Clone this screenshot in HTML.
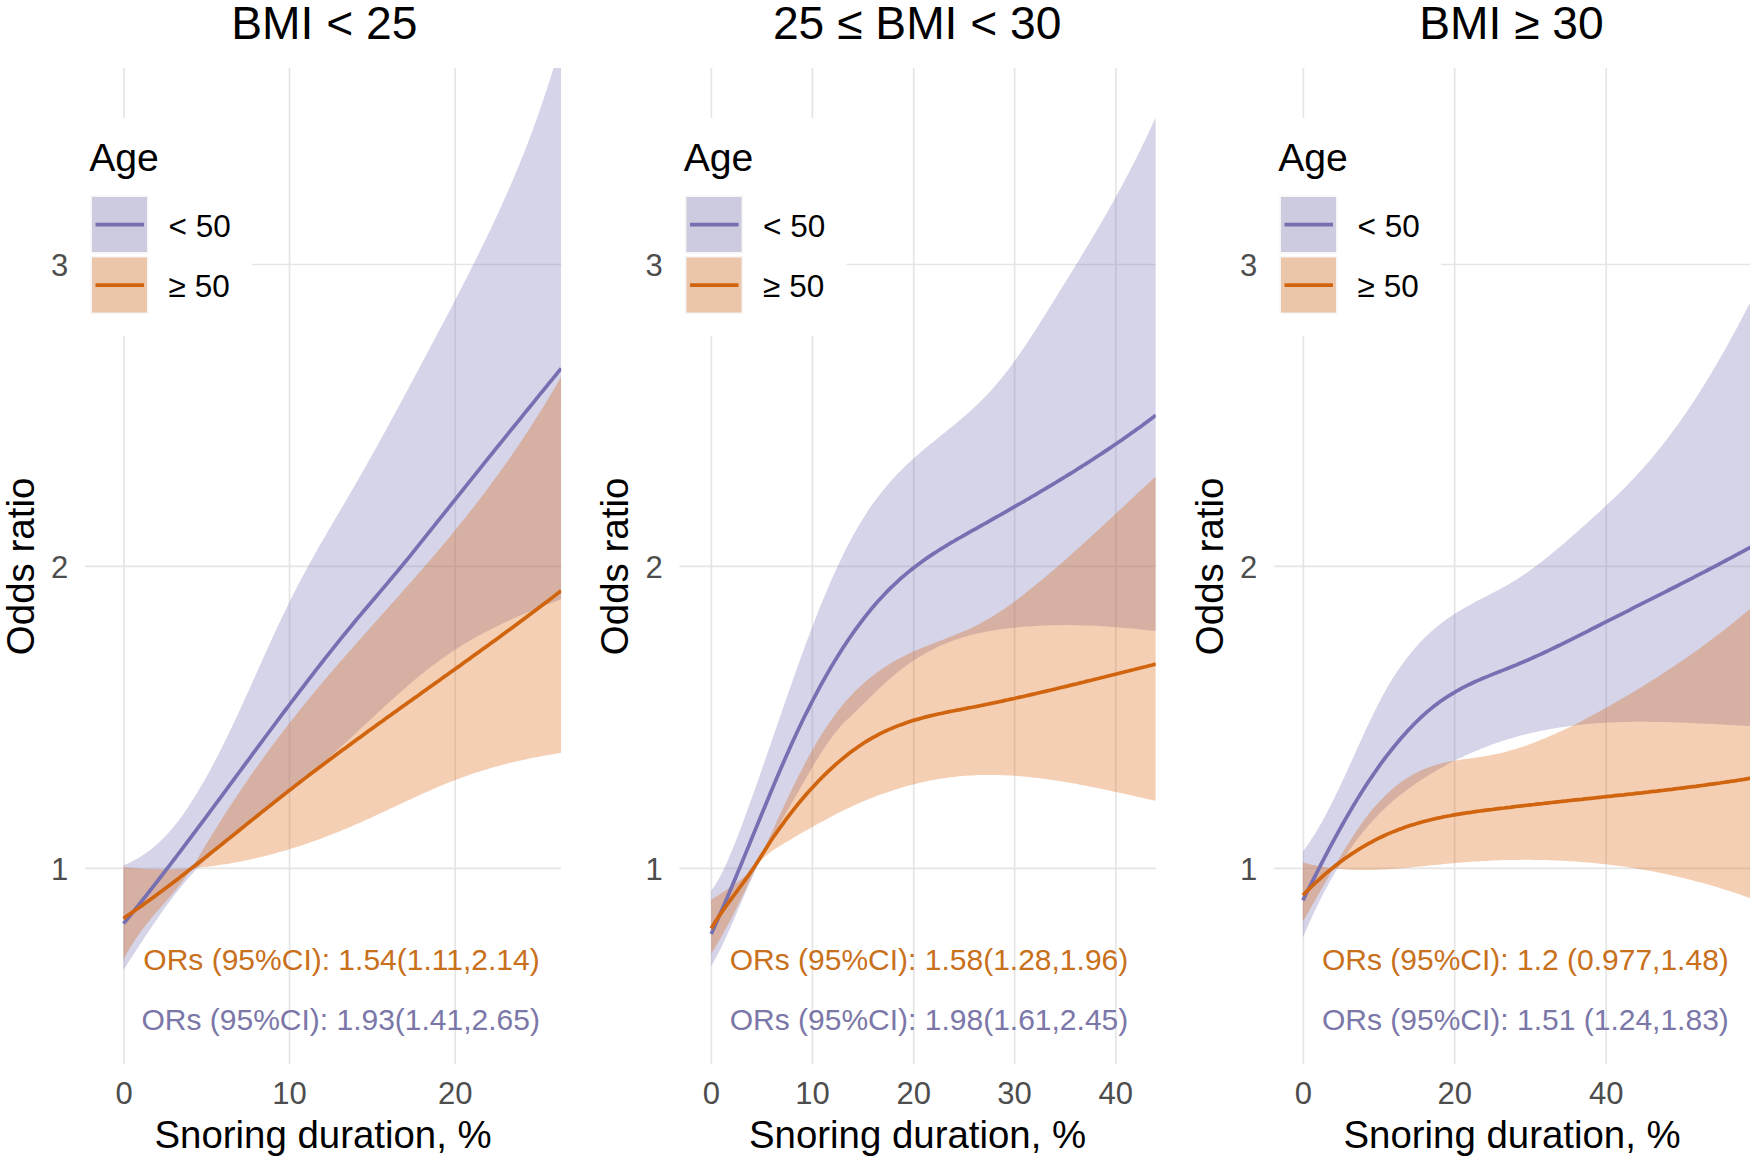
<!DOCTYPE html>
<html lang="en"><head><meta charset="utf-8"><title>Odds ratio by snoring duration</title>
<style>html,body{margin:0;padding:0;background:#fff}body{width:1750px;height:1160px;overflow:hidden}svg{display:block}</style>
</head><body>
<svg width="1750" height="1160" viewBox="0 0 1750 1160" font-family='"Liberation Sans", Arial, Helvetica, sans-serif'>
<rect width="1750" height="1160" fill="#fff"/>
<defs>
<clipPath id="c0"><rect x="85.0" y="68.0" width="476.25" height="996.0"/></clipPath>
<clipPath id="c1"><rect x="679.5" y="68.0" width="476.25" height="996.0"/></clipPath>
<clipPath id="c2"><rect x="1274.0" y="68.0" width="476.00" height="996.0"/></clipPath>
</defs>
<g id="panel1">
<path d="M85.0 264.5H561.25M85.0 566.3H561.25M85.0 868.3H561.25M124.0 68.0V1064.0M289.5 68.0V1064.0M455.25 68.0V1064.0" stroke="#e5e5e5" stroke-width="1.7" fill="none"/>
<g clip-path="url(#c0)">
<path d="M123.5 865.3L126.5 864.0L129.5 862.7L132.5 861.2L135.5 859.6L138.5 857.9L141.5 856.1L144.5 854.1L147.5 852.0L150.5 849.7L153.5 847.3L156.5 844.7L159.5 842.0L162.5 839.1L165.5 836.0L168.5 832.8L171.5 829.3L174.5 825.7L177.5 821.9L180.5 817.9L183.5 813.7L186.5 809.4L189.5 804.9L192.5 800.3L195.5 795.5L198.5 790.5L201.5 785.4L204.5 780.2L207.5 774.9L210.5 769.4L213.5 763.7L216.5 758.0L219.5 752.2L222.5 746.2L225.5 740.1L228.5 734.0L231.5 727.7L234.5 721.4L237.5 714.9L240.5 708.4L243.5 701.9L246.5 695.3L249.5 688.7L252.5 682.0L255.5 675.3L258.5 668.7L261.5 662.0L264.5 655.3L267.5 648.7L270.5 642.1L273.5 635.6L276.5 629.1L279.5 622.6L282.5 616.3L285.5 610.0L288.5 603.9L291.5 597.8L294.5 591.9L297.5 586.1L300.5 580.4L303.5 574.7L306.5 569.2L309.5 563.7L312.5 558.3L315.5 552.9L318.5 547.6L321.5 542.4L324.5 537.2L327.5 532.0L330.5 526.9L333.5 521.8L336.5 516.7L339.5 511.6L342.5 506.5L345.5 501.4L348.5 496.2L351.5 491.1L354.5 485.9L357.5 480.7L360.5 475.5L363.5 470.2L366.5 464.9L369.5 459.6L372.5 454.3L375.5 448.9L378.5 443.5L381.5 438.0L384.5 432.6L387.5 427.1L390.5 421.6L393.5 416.0L396.5 410.5L399.5 404.9L402.5 399.4L405.5 393.8L408.5 388.2L411.5 382.6L414.5 377.0L417.5 371.3L420.5 365.7L423.5 360.0L426.5 354.4L429.5 348.8L432.5 343.1L435.5 337.4L438.5 331.8L441.5 326.1L444.5 320.4L447.5 314.7L450.5 309.0L453.5 303.2L456.5 297.5L459.5 291.7L462.5 285.8L465.5 280.0L468.5 274.1L471.5 268.1L474.5 262.1L477.5 256.1L480.5 250.0L483.5 243.9L486.5 237.7L489.5 231.4L492.5 225.1L495.5 218.7L498.5 212.3L501.5 205.7L504.5 199.1L507.5 192.3L510.5 185.4L513.5 178.4L516.5 171.3L519.5 164.0L522.5 156.6L525.5 149.0L528.5 141.2L531.5 133.2L534.5 125.0L537.5 116.7L540.5 108.1L543.5 99.3L546.5 90.2L549.5 80.9L552.5 71.4L555.5 61.5L558.5 51.4L561.2 41.9L561.2 599.2L558.5 600.3L555.5 601.4L552.5 602.5L549.5 603.7L546.5 604.8L543.5 606.0L540.5 607.2L537.5 608.4L534.5 609.6L531.5 610.8L528.5 612.0L525.5 613.3L522.5 614.5L519.5 615.8L516.5 617.1L513.5 618.5L510.5 619.8L507.5 621.2L504.5 622.6L501.5 624.0L498.5 625.4L495.5 626.9L492.5 628.4L489.5 629.9L486.5 631.5L483.5 633.1L480.5 634.7L477.5 636.3L474.5 638.0L471.5 639.7L468.5 641.5L465.5 643.3L462.5 645.1L459.5 647.0L456.5 648.9L453.5 650.8L450.5 652.8L447.5 654.8L444.5 656.9L441.5 659.0L438.5 661.2L435.5 663.4L432.5 665.7L429.5 668.0L426.5 670.3L423.5 672.7L420.5 675.1L417.5 677.6L414.5 680.1L411.5 682.6L408.5 685.2L405.5 687.8L402.5 690.4L399.5 693.1L396.5 695.7L393.5 698.4L390.5 701.1L387.5 703.9L384.5 706.6L381.5 709.4L378.5 712.1L375.5 714.9L372.5 717.7L369.5 720.5L366.5 723.3L363.5 726.0L360.5 728.8L357.5 731.6L354.5 734.4L351.5 737.2L348.5 739.9L345.5 742.7L342.5 745.4L339.5 748.1L336.5 750.8L333.5 753.5L330.5 756.1L327.5 758.8L324.5 761.4L321.5 764.0L318.5 766.5L315.5 769.1L312.5 771.6L309.5 774.1L306.5 776.6L303.5 779.1L300.5 781.6L297.5 784.1L294.5 786.5L291.5 788.9L288.5 791.4L285.5 793.8L282.5 796.2L279.5 798.6L276.5 801.1L273.5 803.5L270.5 805.9L267.5 808.3L264.5 810.7L261.5 813.1L258.5 815.5L255.5 817.9L252.5 820.3L249.5 822.7L246.5 825.2L243.5 827.6L240.5 830.1L237.5 832.5L234.5 835.0L231.5 837.5L228.5 840.0L225.5 842.5L222.5 845.0L219.5 847.6L216.5 850.1L213.5 852.8L210.5 855.5L207.5 858.2L204.5 861.1L201.5 864.0L198.5 867.0L195.5 870.1L192.5 873.4L189.5 876.8L186.5 880.2L183.5 883.8L180.5 887.5L177.5 891.2L174.5 895.1L171.5 899.0L168.5 903.0L165.5 907.1L162.5 911.3L159.5 915.6L156.5 919.9L153.5 924.2L150.5 928.7L147.5 933.1L144.5 937.6L141.5 942.2L138.5 946.8L135.5 951.4L132.5 956.0L129.5 960.6L126.5 965.3L123.5 970.0Z" fill="#7570B3" fill-opacity="0.3"/>
<path d="M123.5 867.2L126.5 867.5L129.5 867.8L132.5 868.1L135.5 868.3L138.5 868.5L141.5 868.7L144.5 868.9L147.5 869.0L150.5 869.1L153.5 869.2L156.5 869.3L159.5 869.3L162.5 869.3L165.5 869.3L168.5 869.3L171.5 869.2L174.5 869.1L177.5 869.0L180.5 868.9L183.5 868.7L186.5 868.6L189.5 868.4L192.5 868.1L195.5 867.9L198.5 867.6L201.5 867.3L204.5 867.0L207.5 866.7L210.5 866.3L213.5 865.9L216.5 865.5L219.5 865.1L222.5 864.6L225.5 864.2L228.5 863.7L231.5 863.2L234.5 862.6L237.5 862.1L240.5 861.5L243.5 860.9L246.5 860.3L249.5 859.6L252.5 859.0L255.5 858.3L258.5 857.6L261.5 856.9L264.5 856.1L267.5 855.4L270.5 854.6L273.5 853.8L276.5 853.0L279.5 852.1L282.5 851.3L285.5 850.4L288.5 849.5L291.5 848.6L294.5 847.6L297.5 846.7L300.5 845.7L303.5 844.7L306.5 843.7L309.5 842.7L312.5 841.6L315.5 840.5L318.5 839.5L321.5 838.4L324.5 837.2L327.5 836.1L330.5 834.9L333.5 833.8L336.5 832.6L339.5 831.4L342.5 830.1L345.5 828.9L348.5 827.6L351.5 826.4L354.5 825.1L357.5 823.8L360.5 822.4L363.5 821.1L366.5 819.7L369.5 818.4L372.5 817.0L375.5 815.6L378.5 814.2L381.5 812.8L384.5 811.4L387.5 810.0L390.5 808.6L393.5 807.2L396.5 805.8L399.5 804.4L402.5 803.0L405.5 801.6L408.5 800.2L411.5 798.8L414.5 797.4L417.5 796.0L420.5 794.7L423.5 793.3L426.5 792.0L429.5 790.7L432.5 789.3L435.5 788.0L438.5 786.8L441.5 785.5L444.5 784.3L447.5 783.0L450.5 781.8L453.5 780.7L456.5 779.5L459.5 778.4L462.5 777.3L465.5 776.2L468.5 775.2L471.5 774.1L474.5 773.1L477.5 772.2L480.5 771.2L483.5 770.3L486.5 769.4L489.5 768.5L492.5 767.6L495.5 766.8L498.5 765.9L501.5 765.1L504.5 764.3L507.5 763.6L510.5 762.8L513.5 762.1L516.5 761.4L519.5 760.7L522.5 760.0L525.5 759.4L528.5 758.7L531.5 758.1L534.5 757.5L537.5 756.9L540.5 756.4L543.5 755.8L546.5 755.3L549.5 754.7L552.5 754.2L555.5 753.7L558.5 753.2L561.2 752.8L561.2 376.5L558.5 381.3L555.5 386.4L552.5 391.5L549.5 396.6L546.5 401.5L543.5 406.4L540.5 411.3L537.5 416.1L534.5 420.8L531.5 425.5L528.5 430.2L525.5 434.8L522.5 439.3L519.5 443.8L516.5 448.2L513.5 452.6L510.5 457.0L507.5 461.3L504.5 465.5L501.5 469.7L498.5 473.9L495.5 478.0L492.5 482.1L489.5 486.2L486.5 490.2L483.5 494.2L480.5 498.1L477.5 502.0L474.5 505.9L471.5 509.8L468.5 513.6L465.5 517.4L462.5 521.1L459.5 524.8L456.5 528.5L453.5 532.2L450.5 535.9L447.5 539.5L444.5 543.1L441.5 546.7L438.5 550.2L435.5 553.7L432.5 557.3L429.5 560.8L426.5 564.2L423.5 567.7L420.5 571.2L417.5 574.6L414.5 578.0L411.5 581.4L408.5 584.8L405.5 588.2L402.5 591.6L399.5 595.0L396.5 598.4L393.5 601.7L390.5 605.1L387.5 608.5L384.5 611.8L381.5 615.2L378.5 618.5L375.5 621.9L372.5 625.2L369.5 628.6L366.5 632.0L363.5 635.3L360.5 638.7L357.5 642.1L354.5 645.5L351.5 648.9L348.5 652.3L345.5 655.7L342.5 659.2L339.5 662.6L336.5 666.1L333.5 669.6L330.5 673.1L327.5 676.6L324.5 680.1L321.5 683.7L318.5 687.2L315.5 690.8L312.5 694.4L309.5 698.1L306.5 701.7L303.5 705.4L300.5 709.1L297.5 712.9L294.5 716.7L291.5 720.5L288.5 724.3L285.5 728.2L282.5 732.1L279.5 736.0L276.5 740.0L273.5 744.0L270.5 748.0L267.5 752.1L264.5 756.2L261.5 760.4L258.5 764.5L255.5 768.8L252.5 773.0L249.5 777.3L246.5 781.7L243.5 786.1L240.5 790.5L237.5 795.0L234.5 799.5L231.5 804.0L228.5 808.6L225.5 813.3L222.5 817.9L219.5 822.7L216.5 827.5L213.5 832.3L210.5 837.2L207.5 842.1L204.5 847.0L201.5 852.0L198.5 857.0L195.5 861.9L192.5 866.7L189.5 871.3L186.5 875.7L183.5 879.9L180.5 883.9L177.5 887.7L174.5 891.3L171.5 894.9L168.5 898.4L165.5 901.8L162.5 905.2L159.5 908.7L156.5 912.1L153.5 915.6L150.5 919.2L147.5 922.9L144.5 926.7L141.5 930.7L138.5 934.9L135.5 939.3L132.5 944.0L129.5 948.9L126.5 954.1L123.5 959.6Z" fill="#D95F02" fill-opacity="0.3" fill-rule="nonzero"/>
<path d="M123.5 923.7L126.5 920.0L129.5 916.3L132.5 912.6L135.5 908.9L138.5 905.2L141.5 901.4L144.5 897.6L147.5 893.8L150.5 890.0L153.5 886.2L156.5 882.4L159.5 878.5L162.5 874.6L165.5 870.7L168.5 866.8L171.5 862.9L174.5 859.0L177.5 855.0L180.5 851.1L183.5 847.1L186.5 843.1L189.5 839.1L192.5 835.2L195.5 831.1L198.5 827.1L201.5 823.1L204.5 819.1L207.5 815.1L210.5 811.0L213.5 807.0L216.5 802.9L219.5 798.9L222.5 794.8L225.5 790.8L228.5 786.7L231.5 782.7L234.5 778.6L237.5 774.5L240.5 770.5L243.5 766.4L246.5 762.3L249.5 758.3L252.5 754.2L255.5 750.2L258.5 746.1L261.5 742.1L264.5 738.0L267.5 734.0L270.5 730.0L273.5 726.0L276.5 722.0L279.5 717.9L282.5 713.9L285.5 710.0L288.5 706.0L291.5 702.0L294.5 698.1L297.5 694.1L300.5 690.2L303.5 686.3L306.5 682.3L309.5 678.4L312.5 674.6L315.5 670.7L318.5 666.8L321.5 663.0L324.5 659.2L327.5 655.4L330.5 651.6L333.5 647.8L336.5 644.1L339.5 640.4L342.5 636.7L345.5 633.0L348.5 629.3L351.5 625.7L354.5 622.0L357.5 618.4L360.5 614.9L363.5 611.3L366.5 607.8L369.5 604.2L372.5 600.7L375.5 597.2L378.5 593.6L381.5 590.1L384.5 586.6L387.5 583.1L390.5 579.5L393.5 575.9L396.5 572.4L399.5 568.8L402.5 565.1L405.5 561.5L408.5 557.8L411.5 554.1L414.5 550.4L417.5 546.7L420.5 542.9L423.5 539.2L426.5 535.4L429.5 531.6L432.5 527.9L435.5 524.1L438.5 520.4L441.5 516.6L444.5 512.8L447.5 509.1L450.5 505.3L453.5 501.6L456.5 497.8L459.5 494.1L462.5 490.3L465.5 486.6L468.5 482.8L471.5 479.1L474.5 475.4L477.5 471.6L480.5 467.9L483.5 464.2L486.5 460.4L489.5 456.7L492.5 453.0L495.5 449.2L498.5 445.5L501.5 441.8L504.5 438.1L507.5 434.4L510.5 430.7L513.5 427.0L516.5 423.3L519.5 419.6L522.5 415.9L525.5 412.2L528.5 408.5L531.5 404.8L534.5 401.1L537.5 397.4L540.5 393.7L543.5 390.1L546.5 386.4L549.5 382.7L552.5 379.1L555.5 375.4L558.5 371.7L561.2 368.4" stroke="#766fb2" stroke-width="3.7" fill="none"/>
<path d="M123.5 918.4L126.5 916.3L129.5 914.3L132.5 912.2L135.5 910.1L138.5 908.0L141.5 905.9L144.5 903.7L147.5 901.6L150.5 899.4L153.5 897.2L156.5 895.0L159.5 892.8L162.5 890.5L165.5 888.3L168.5 886.0L171.5 883.7L174.5 881.5L177.5 879.2L180.5 876.9L183.5 874.5L186.5 872.2L189.5 869.9L192.5 867.5L195.5 865.2L198.5 862.8L201.5 860.5L204.5 858.1L207.5 855.7L210.5 853.3L213.5 850.9L216.5 848.5L219.5 846.1L222.5 843.7L225.5 841.3L228.5 838.9L231.5 836.5L234.5 834.1L237.5 831.7L240.5 829.3L243.5 826.9L246.5 824.4L249.5 822.0L252.5 819.6L255.5 817.2L258.5 814.8L261.5 812.4L264.5 810.0L267.5 807.6L270.5 805.2L273.5 802.9L276.5 800.5L279.5 798.1L282.5 795.7L285.5 793.4L288.5 791.0L291.5 788.7L294.5 786.4L297.5 784.0L300.5 781.7L303.5 779.4L306.5 777.1L309.5 774.8L312.5 772.6L315.5 770.3L318.5 768.0L321.5 765.7L324.5 763.5L327.5 761.2L330.5 759.0L333.5 756.8L336.5 754.5L339.5 752.3L342.5 750.1L345.5 747.9L348.5 745.7L351.5 743.5L354.5 741.3L357.5 739.1L360.5 736.9L363.5 734.7L366.5 732.5L369.5 730.3L372.5 728.2L375.5 726.0L378.5 723.8L381.5 721.7L384.5 719.5L387.5 717.3L390.5 715.2L393.5 713.0L396.5 710.9L399.5 708.7L402.5 706.6L405.5 704.4L408.5 702.3L411.5 700.2L414.5 698.0L417.5 695.9L420.5 693.7L423.5 691.6L426.5 689.5L429.5 687.3L432.5 685.2L435.5 683.0L438.5 680.9L441.5 678.8L444.5 676.6L447.5 674.5L450.5 672.3L453.5 670.2L456.5 668.0L459.5 665.9L462.5 663.7L465.5 661.6L468.5 659.4L471.5 657.3L474.5 655.1L477.5 652.9L480.5 650.8L483.5 648.6L486.5 646.4L489.5 644.3L492.5 642.1L495.5 639.9L498.5 637.7L501.5 635.5L504.5 633.3L507.5 631.1L510.5 628.9L513.5 626.7L516.5 624.5L519.5 622.3L522.5 620.0L525.5 617.8L528.5 615.6L531.5 613.3L534.5 611.1L537.5 608.8L540.5 606.5L543.5 604.3L546.5 602.0L549.5 599.7L552.5 597.4L555.5 595.1L558.5 592.8L561.2 590.7" stroke="#d0640f" stroke-width="3.7" fill="none"/>
</g>
<text x="341.5" y="969.5" text-anchor="middle" font-size="30" fill="#c8701c">ORs (95%CI): 1.54(1.11,2.14)</text>
<text x="340.7" y="1030" text-anchor="middle" font-size="30" fill="#7b77a8">ORs (95%CI): 1.93(1.41,2.65)</text>
<rect x="73.0" y="118" width="179" height="218" fill="#fff"/>
<text x="89.2" y="171" font-size="39.2" fill="#000">Age</text>
<rect x="90.5" y="195.5" width="58" height="58" fill="#f7f6f5"/>
<rect x="92.0" y="197" width="55" height="55" fill="#f2f2f2"/>
<rect x="92.0" y="197" width="55" height="55" fill="#7570B3" fill-opacity="0.3"/>
<path d="M95.5 224.6H144.0" stroke="#766fb2" stroke-width="3.7"/>
<text x="168.6" y="236.8" font-size="31.5" fill="#000">&lt; 50</text>
<rect x="90.5" y="256.0" width="58" height="58" fill="#f7f6f5"/>
<rect x="92.0" y="257.5" width="55" height="55" fill="#f2f2f2"/>
<rect x="92.0" y="257.5" width="55" height="55" fill="#D95F02" fill-opacity="0.3"/>
<path d="M95.5 285.1H144.0" stroke="#d0640f" stroke-width="3.7"/>
<text x="168.6" y="297.3" font-size="31.5" fill="#000">≥ 50</text>
<text x="68.3" y="276.1" text-anchor="end" font-size="31" fill="#4d4d4d">3</text>
<text x="68.3" y="577.9" text-anchor="end" font-size="31" fill="#4d4d4d">2</text>
<text x="68.3" y="879.9" text-anchor="end" font-size="31" fill="#4d4d4d">1</text>
<text x="124.0" y="1103.5" text-anchor="middle" font-size="31" fill="#4d4d4d">0</text>
<text x="289.5" y="1103.5" text-anchor="middle" font-size="31" fill="#4d4d4d">10</text>
<text x="455.25" y="1103.5" text-anchor="middle" font-size="31" fill="#4d4d4d">20</text>
<text x="323.1" y="1148" text-anchor="middle" font-size="38.4" fill="#000">Snoring duration, %</text>
<text transform="translate(33.6 566.4) rotate(-90)" text-anchor="middle" font-size="38.5" fill="#000">Odds ratio</text>
<text x="324.3" y="39.4" text-anchor="middle" font-size="46.2" fill="#000">BMI &lt; 25</text>
</g>
<g id="panel2">
<path d="M679.5 264.5H1155.75M679.5 566.3H1155.75M679.5 868.3H1155.75M711.4 68.0V1064.0M812.4 68.0V1064.0M913.75 68.0V1064.0M1014.6 68.0V1064.0M1115.8 68.0V1064.0" stroke="#e5e5e5" stroke-width="1.7" fill="none"/>
<g clip-path="url(#c1)">
<path d="M711.2 890.9L714.2 886.6L717.2 881.7L720.2 876.3L723.2 870.4L726.2 864.0L729.2 857.2L732.2 850.1L735.2 842.6L738.2 834.9L741.2 827.0L744.2 818.9L747.2 810.6L750.2 802.3L753.2 793.9L756.2 785.4L759.2 776.9L762.2 768.3L765.2 759.7L768.2 751.0L771.2 742.4L774.2 733.7L777.2 725.0L780.2 716.3L783.2 707.6L786.2 699.0L789.2 690.4L792.2 681.8L795.2 673.3L798.2 664.8L801.2 656.5L804.2 648.3L807.2 640.2L810.2 632.2L813.2 624.4L816.2 616.7L819.2 609.1L822.2 601.7L825.2 594.5L828.2 587.4L831.2 580.5L834.2 573.8L837.2 567.2L840.2 560.9L843.2 554.6L846.2 548.6L849.2 542.8L852.2 537.2L855.2 531.8L858.2 526.5L861.2 521.5L864.2 516.7L867.2 512.0L870.2 507.6L873.2 503.3L876.2 499.2L879.2 495.2L882.2 491.4L885.2 487.7L888.2 484.2L891.2 480.8L894.2 477.5L897.2 474.3L900.2 471.2L903.2 468.2L906.2 465.3L909.2 462.5L912.2 459.7L915.2 457.0L918.2 454.4L921.2 451.8L924.2 449.3L927.2 446.8L930.2 444.3L933.2 441.9L936.2 439.4L939.2 437.0L942.2 434.6L945.2 432.2L948.2 429.8L951.2 427.3L954.2 424.9L957.2 422.4L960.2 419.8L963.2 417.3L966.2 414.7L969.2 412.0L972.2 409.3L975.2 406.5L978.2 403.7L981.2 400.7L984.2 397.7L987.2 394.6L990.2 391.4L993.2 388.0L996.2 384.6L999.2 381.1L1002.2 377.4L1005.2 373.6L1008.2 369.7L1011.2 365.7L1014.2 361.6L1017.2 357.3L1020.2 353.0L1023.2 348.7L1026.2 344.2L1029.2 339.7L1032.2 335.1L1035.2 330.4L1038.2 325.8L1041.2 321.0L1044.2 316.2L1047.2 311.4L1050.2 306.6L1053.2 301.8L1056.2 296.9L1059.2 292.1L1062.2 287.2L1065.2 282.4L1068.2 277.5L1071.2 272.7L1074.2 267.8L1077.2 262.9L1080.2 258.0L1083.2 253.1L1086.2 248.1L1089.2 243.1L1092.2 238.1L1095.2 233.0L1098.2 227.9L1101.2 222.8L1104.2 217.6L1107.2 212.4L1110.2 207.1L1113.2 201.7L1116.2 196.3L1119.2 190.8L1122.2 185.3L1125.2 179.6L1128.2 173.9L1131.2 168.1L1134.2 162.2L1137.2 156.3L1140.2 150.2L1143.2 144.0L1146.2 137.8L1149.2 131.4L1152.2 124.9L1155.2 118.4L1155.8 117.1L1155.8 631.2L1155.2 631.1L1152.2 630.8L1149.2 630.4L1146.2 630.1L1143.2 629.7L1140.2 629.4L1137.2 629.1L1134.2 628.8L1131.2 628.5L1128.2 628.2L1125.2 627.9L1122.2 627.7L1119.2 627.4L1116.2 627.2L1113.2 626.9L1110.2 626.7L1107.2 626.5L1104.2 626.3L1101.2 626.2L1098.2 626.0L1095.2 625.8L1092.2 625.7L1089.2 625.6L1086.2 625.5L1083.2 625.4L1080.2 625.3L1077.2 625.2L1074.2 625.2L1071.2 625.1L1068.2 625.1L1065.2 625.1L1062.2 625.1L1059.2 625.2L1056.2 625.2L1053.2 625.3L1050.2 625.3L1047.2 625.4L1044.2 625.5L1041.2 625.7L1038.2 625.8L1035.2 626.0L1032.2 626.2L1029.2 626.4L1026.2 626.6L1023.2 626.8L1020.2 627.1L1017.2 627.4L1014.2 627.7L1011.2 628.0L1008.2 628.3L1005.2 628.7L1002.2 629.1L999.2 629.5L996.2 629.9L993.2 630.4L990.2 630.9L987.2 631.5L984.2 632.1L981.2 632.7L978.2 633.3L975.2 634.0L972.2 634.8L969.2 635.6L966.2 636.4L963.2 637.3L960.2 638.2L957.2 639.2L954.2 640.2L951.2 641.3L948.2 642.5L945.2 643.7L942.2 645.0L939.2 646.3L936.2 647.7L933.2 649.2L930.2 650.7L927.2 652.3L924.2 654.0L921.2 655.7L918.2 657.6L915.2 659.5L912.2 661.5L909.2 663.5L906.2 665.7L903.2 667.9L900.2 670.2L897.2 672.6L894.2 675.1L891.2 677.7L888.2 680.3L885.2 683.0L882.2 685.8L879.2 688.6L876.2 691.5L873.2 694.4L870.2 697.3L867.2 700.2L864.2 703.1L861.2 706.1L858.2 709.0L855.2 711.9L852.2 714.8L849.2 717.7L846.2 720.6L843.2 723.6L840.2 726.8L837.2 730.3L834.2 734.0L831.2 738.0L828.2 742.2L825.2 746.6L822.2 751.2L819.2 755.9L816.2 760.8L813.2 765.8L810.2 770.9L807.2 776.0L804.2 781.3L801.2 786.5L798.2 791.8L795.2 797.0L792.2 802.2L789.2 807.4L786.2 812.6L783.2 817.8L780.2 823.0L777.2 828.3L774.2 833.7L771.2 839.1L768.2 844.7L765.2 850.5L762.2 856.4L759.2 862.4L756.2 868.7L753.2 875.2L750.2 881.9L747.2 888.7L744.2 895.6L741.2 902.6L738.2 909.6L735.2 916.5L732.2 923.4L729.2 930.2L726.2 936.8L723.2 943.2L720.2 949.4L717.2 955.3L714.2 960.8L711.2 966.0Z" fill="#7570B3" fill-opacity="0.3"/>
<path d="M711.2 899.7L714.2 897.8L717.2 895.9L720.2 894.0L723.2 892.1L726.2 890.1L729.2 888.1L732.2 886.0L735.2 883.8L738.2 881.5L741.2 879.2L744.2 876.7L747.2 874.1L750.2 871.3L753.2 868.5L756.2 865.5L759.2 862.3L762.2 859.3L765.2 856.5L768.2 854.0L771.2 851.7L774.2 849.6L777.2 847.6L780.2 845.7L783.2 843.9L786.2 842.1L789.2 840.4L792.2 838.6L795.2 836.8L798.2 835.1L801.2 833.3L804.2 831.6L807.2 829.9L810.2 828.2L813.2 826.5L816.2 824.8L819.2 823.1L822.2 821.5L825.2 819.9L828.2 818.3L831.2 816.7L834.2 815.1L837.2 813.6L840.2 812.1L843.2 810.6L846.2 809.1L849.2 807.7L852.2 806.3L855.2 804.9L858.2 803.6L861.2 802.3L864.2 801.0L867.2 799.8L870.2 798.6L873.2 797.4L876.2 796.2L879.2 795.1L882.2 794.0L885.2 792.9L888.2 791.9L891.2 790.9L894.2 789.9L897.2 789.0L900.2 788.1L903.2 787.2L906.2 786.3L909.2 785.5L912.2 784.7L915.2 783.9L918.2 783.2L921.2 782.5L924.2 781.9L927.2 781.2L930.2 780.6L933.2 780.0L936.2 779.5L939.2 779.0L942.2 778.5L945.2 778.0L948.2 777.6L951.2 777.2L954.2 776.9L957.2 776.6L960.2 776.3L963.2 776.0L966.2 775.8L969.2 775.6L972.2 775.4L975.2 775.2L978.2 775.1L981.2 775.0L984.2 775.0L987.2 775.0L990.2 774.9L993.2 775.0L996.2 775.0L999.2 775.1L1002.2 775.2L1005.2 775.3L1008.2 775.5L1011.2 775.6L1014.2 775.8L1017.2 776.0L1020.2 776.3L1023.2 776.5L1026.2 776.8L1029.2 777.1L1032.2 777.4L1035.2 777.7L1038.2 778.1L1041.2 778.5L1044.2 778.8L1047.2 779.2L1050.2 779.7L1053.2 780.1L1056.2 780.6L1059.2 781.0L1062.2 781.5L1065.2 782.0L1068.2 782.5L1071.2 783.0L1074.2 783.6L1077.2 784.1L1080.2 784.7L1083.2 785.2L1086.2 785.8L1089.2 786.4L1092.2 787.0L1095.2 787.6L1098.2 788.2L1101.2 788.8L1104.2 789.5L1107.2 790.1L1110.2 790.7L1113.2 791.4L1116.2 792.0L1119.2 792.7L1122.2 793.3L1125.2 794.0L1128.2 794.7L1131.2 795.3L1134.2 796.0L1137.2 796.7L1140.2 797.3L1143.2 798.0L1146.2 798.7L1149.2 799.4L1152.2 800.0L1155.2 800.7L1155.8 800.8L1155.8 476.4L1155.2 476.9L1152.2 479.7L1149.2 482.5L1146.2 485.3L1143.2 488.0L1140.2 490.8L1137.2 493.6L1134.2 496.4L1131.2 499.3L1128.2 502.1L1125.2 504.9L1122.2 507.7L1119.2 510.5L1116.2 513.3L1113.2 516.1L1110.2 518.9L1107.2 521.6L1104.2 524.4L1101.2 527.2L1098.2 530.0L1095.2 532.7L1092.2 535.5L1089.2 538.2L1086.2 541.0L1083.2 543.7L1080.2 546.4L1077.2 549.1L1074.2 551.8L1071.2 554.5L1068.2 557.2L1065.2 559.8L1062.2 562.4L1059.2 565.1L1056.2 567.7L1053.2 570.2L1050.2 572.8L1047.2 575.3L1044.2 577.9L1041.2 580.4L1038.2 582.8L1035.2 585.3L1032.2 587.7L1029.2 590.1L1026.2 592.5L1023.2 594.9L1020.2 597.2L1017.2 599.5L1014.2 601.7L1011.2 603.9L1008.2 606.1L1005.2 608.2L1002.2 610.2L999.2 612.2L996.2 614.2L993.2 616.1L990.2 617.9L987.2 619.6L984.2 621.3L981.2 623.0L978.2 624.5L975.2 626.0L972.2 627.5L969.2 628.9L966.2 630.2L963.2 631.5L960.2 632.8L957.2 634.0L954.2 635.2L951.2 636.4L948.2 637.6L945.2 638.8L942.2 639.9L939.2 641.1L936.2 642.2L933.2 643.4L930.2 644.6L927.2 645.8L924.2 647.0L921.2 648.2L918.2 649.5L915.2 650.8L912.2 652.1L909.2 653.5L906.2 655.0L903.2 656.5L900.2 658.0L897.2 659.6L894.2 661.3L891.2 663.1L888.2 664.9L885.2 666.8L882.2 668.8L879.2 670.9L876.2 673.0L873.2 675.3L870.2 677.7L867.2 680.1L864.2 682.7L861.2 685.4L858.2 688.2L855.2 691.1L852.2 694.2L849.2 697.4L846.2 700.8L843.2 704.3L840.2 707.9L837.2 711.8L834.2 715.8L831.2 720.0L828.2 724.3L825.2 728.8L822.2 733.5L819.2 738.3L816.2 743.3L813.2 748.5L810.2 753.8L807.2 759.3L804.2 764.9L801.2 770.7L798.2 776.6L795.2 782.6L792.2 788.7L789.2 795.0L786.2 801.3L783.2 807.7L780.2 814.1L777.2 820.6L774.2 827.2L771.2 833.7L768.2 840.3L765.2 846.9L762.2 853.5L759.2 860.1L756.2 866.7L753.2 873.2L750.2 879.7L747.2 886.1L744.2 892.4L741.2 898.6L738.2 904.8L735.2 910.8L732.2 916.7L729.2 922.5L726.2 928.1L723.2 933.6L720.2 939.0L717.2 944.1L714.2 949.0L711.2 953.8Z" fill="#D95F02" fill-opacity="0.3" fill-rule="nonzero"/>
<path d="M711.2 934.0L714.2 927.4L717.2 920.7L720.2 913.8L723.2 907.0L726.2 900.0L729.2 892.9L732.2 885.8L735.2 878.7L738.2 871.4L741.2 864.2L744.2 856.9L747.2 849.6L750.2 842.3L753.2 834.9L756.2 827.6L759.2 820.3L762.2 813.0L765.2 805.7L768.2 798.5L771.2 791.3L774.2 784.1L777.2 777.1L780.2 770.0L783.2 763.1L786.2 756.3L789.2 749.5L792.2 742.8L795.2 736.3L798.2 729.8L801.2 723.5L804.2 717.3L807.2 711.3L810.2 705.3L813.2 699.5L816.2 693.8L819.2 688.2L822.2 682.7L825.2 677.3L828.2 672.1L831.2 666.9L834.2 661.9L837.2 657.0L840.2 652.2L843.2 647.5L846.2 643.0L849.2 638.5L852.2 634.2L855.2 629.9L858.2 625.8L861.2 621.8L864.2 617.9L867.2 614.1L870.2 610.4L873.2 606.8L876.2 603.3L879.2 599.9L882.2 596.7L885.2 593.5L888.2 590.4L891.2 587.4L894.2 584.6L897.2 581.8L900.2 579.0L903.2 576.4L906.2 573.9L909.2 571.4L912.2 569.0L915.2 566.7L918.2 564.4L921.2 562.2L924.2 560.0L927.2 557.9L930.2 555.9L933.2 553.9L936.2 552.0L939.2 550.0L942.2 548.2L945.2 546.3L948.2 544.5L951.2 542.7L954.2 541.0L957.2 539.2L960.2 537.5L963.2 535.8L966.2 534.1L969.2 532.4L972.2 530.7L975.2 529.1L978.2 527.4L981.2 525.7L984.2 524.0L987.2 522.3L990.2 520.6L993.2 518.9L996.2 517.2L999.2 515.5L1002.2 513.8L1005.2 512.1L1008.2 510.4L1011.2 508.7L1014.2 506.9L1017.2 505.2L1020.2 503.5L1023.2 501.8L1026.2 500.0L1029.2 498.3L1032.2 496.5L1035.2 494.8L1038.2 493.0L1041.2 491.2L1044.2 489.5L1047.2 487.7L1050.2 485.9L1053.2 484.1L1056.2 482.3L1059.2 480.4L1062.2 478.6L1065.2 476.8L1068.2 474.9L1071.2 473.1L1074.2 471.2L1077.2 469.3L1080.2 467.4L1083.2 465.5L1086.2 463.6L1089.2 461.7L1092.2 459.8L1095.2 457.8L1098.2 455.8L1101.2 453.9L1104.2 451.9L1107.2 449.9L1110.2 447.9L1113.2 445.8L1116.2 443.8L1119.2 441.7L1122.2 439.7L1125.2 437.6L1128.2 435.5L1131.2 433.3L1134.2 431.2L1137.2 429.0L1140.2 426.9L1143.2 424.7L1146.2 422.5L1149.2 420.2L1152.2 418.0L1155.2 415.7L1155.8 415.3" stroke="#766fb2" stroke-width="3.7" fill="none"/>
<path d="M711.2 928.5L714.2 923.6L717.2 919.0L720.2 914.5L723.2 910.1L726.2 905.9L729.2 901.7L732.2 897.6L735.2 893.6L738.2 889.5L741.2 885.4L744.2 881.3L747.2 877.2L750.2 872.9L753.2 868.5L756.2 863.9L759.2 859.3L762.2 854.5L765.2 849.7L768.2 844.9L771.2 840.3L774.2 835.8L777.2 831.6L780.2 827.4L783.2 823.3L786.2 819.2L789.2 815.3L792.2 811.4L795.2 807.6L798.2 803.9L801.2 800.3L804.2 796.8L807.2 793.3L810.2 789.9L813.2 786.7L816.2 783.4L819.2 780.3L822.2 777.2L825.2 774.3L828.2 771.4L831.2 768.6L834.2 765.8L837.2 763.2L840.2 760.6L843.2 758.1L846.2 755.7L849.2 753.3L852.2 751.1L855.2 748.9L858.2 746.8L861.2 744.8L864.2 742.8L867.2 740.9L870.2 739.1L873.2 737.4L876.2 735.8L879.2 734.2L882.2 732.7L885.2 731.2L888.2 729.9L891.2 728.6L894.2 727.3L897.2 726.1L900.2 724.9L903.2 723.9L906.2 722.8L909.2 721.8L912.2 720.8L915.2 719.9L918.2 719.1L921.2 718.2L924.2 717.4L927.2 716.6L930.2 715.9L933.2 715.2L936.2 714.5L939.2 713.8L942.2 713.2L945.2 712.5L948.2 711.9L951.2 711.3L954.2 710.7L957.2 710.1L960.2 709.6L963.2 709.0L966.2 708.4L969.2 707.8L972.2 707.3L975.2 706.7L978.2 706.1L981.2 705.5L984.2 704.9L987.2 704.2L990.2 703.6L993.2 703.0L996.2 702.4L999.2 701.7L1002.2 701.1L1005.2 700.4L1008.2 699.8L1011.2 699.1L1014.2 698.5L1017.2 697.8L1020.2 697.1L1023.2 696.5L1026.2 695.8L1029.2 695.1L1032.2 694.4L1035.2 693.7L1038.2 693.0L1041.2 692.3L1044.2 691.6L1047.2 690.9L1050.2 690.2L1053.2 689.5L1056.2 688.8L1059.2 688.0L1062.2 687.3L1065.2 686.6L1068.2 685.9L1071.2 685.1L1074.2 684.4L1077.2 683.7L1080.2 682.9L1083.2 682.2L1086.2 681.4L1089.2 680.7L1092.2 680.0L1095.2 679.2L1098.2 678.5L1101.2 677.7L1104.2 677.0L1107.2 676.2L1110.2 675.5L1113.2 674.7L1116.2 674.0L1119.2 673.2L1122.2 672.5L1125.2 671.7L1128.2 671.0L1131.2 670.2L1134.2 669.5L1137.2 668.7L1140.2 668.0L1143.2 667.2L1146.2 666.5L1149.2 665.7L1152.2 665.0L1155.2 664.2L1155.8 664.1" stroke="#d0640f" stroke-width="3.7" fill="none"/>
</g>
<text x="929" y="969.5" text-anchor="middle" font-size="30" fill="#c8701c">ORs (95%CI): 1.58(1.28,1.96)</text>
<text x="929" y="1030" text-anchor="middle" font-size="30" fill="#7b77a8">ORs (95%CI): 1.98(1.61,2.45)</text>
<rect x="667.5" y="118" width="179" height="218" fill="#fff"/>
<text x="683.7" y="171" font-size="39.2" fill="#000">Age</text>
<rect x="685.0" y="195.5" width="58" height="58" fill="#f7f6f5"/>
<rect x="686.5" y="197" width="55" height="55" fill="#f2f2f2"/>
<rect x="686.5" y="197" width="55" height="55" fill="#7570B3" fill-opacity="0.3"/>
<path d="M690.0 224.6H738.5" stroke="#766fb2" stroke-width="3.7"/>
<text x="763.1" y="236.8" font-size="31.5" fill="#000">&lt; 50</text>
<rect x="685.0" y="256.0" width="58" height="58" fill="#f7f6f5"/>
<rect x="686.5" y="257.5" width="55" height="55" fill="#f2f2f2"/>
<rect x="686.5" y="257.5" width="55" height="55" fill="#D95F02" fill-opacity="0.3"/>
<path d="M690.0 285.1H738.5" stroke="#d0640f" stroke-width="3.7"/>
<text x="763.1" y="297.3" font-size="31.5" fill="#000">≥ 50</text>
<text x="662.8" y="276.1" text-anchor="end" font-size="31" fill="#4d4d4d">3</text>
<text x="662.8" y="577.9" text-anchor="end" font-size="31" fill="#4d4d4d">2</text>
<text x="662.8" y="879.9" text-anchor="end" font-size="31" fill="#4d4d4d">1</text>
<text x="711.4" y="1103.5" text-anchor="middle" font-size="31" fill="#4d4d4d">0</text>
<text x="812.4" y="1103.5" text-anchor="middle" font-size="31" fill="#4d4d4d">10</text>
<text x="913.75" y="1103.5" text-anchor="middle" font-size="31" fill="#4d4d4d">20</text>
<text x="1014.6" y="1103.5" text-anchor="middle" font-size="31" fill="#4d4d4d">30</text>
<text x="1115.8" y="1103.5" text-anchor="middle" font-size="31" fill="#4d4d4d">40</text>
<text x="917.6" y="1148" text-anchor="middle" font-size="38.4" fill="#000">Snoring duration, %</text>
<text transform="translate(628.1 566.4) rotate(-90)" text-anchor="middle" font-size="38.5" fill="#000">Odds ratio</text>
<text x="917.2" y="39.4" text-anchor="middle" font-size="46.2" fill="#000">25 ≤ BMI &lt; 30</text>
</g>
<g id="panel3">
<path d="M1274.0 264.5H1750.00M1274.0 566.3H1750.00M1274.0 868.3H1750.00M1303.4 68.0V1064.0M1454.7 68.0V1064.0M1606.2 68.0V1064.0" stroke="#e5e5e5" stroke-width="1.7" fill="none"/>
<g clip-path="url(#c2)">
<path d="M1302.9 851.4L1305.9 847.4L1308.9 843.2L1311.9 838.6L1314.9 833.9L1317.9 828.9L1320.9 823.7L1323.9 818.2L1326.9 812.6L1329.9 806.8L1332.9 800.9L1335.9 794.8L1338.9 788.5L1341.9 782.2L1344.9 775.7L1347.9 769.2L1350.9 762.6L1353.9 755.9L1356.9 749.3L1359.9 742.7L1362.9 736.1L1365.9 729.6L1368.9 723.2L1371.9 716.9L1374.9 710.8L1377.9 704.8L1380.9 699.0L1383.9 693.5L1386.9 688.1L1389.9 683.0L1392.9 678.1L1395.9 673.5L1398.9 669.0L1401.9 664.7L1404.9 660.6L1407.9 656.7L1410.9 652.9L1413.9 649.3L1416.9 645.9L1419.9 642.6L1422.9 639.5L1425.9 636.6L1428.9 633.7L1431.9 631.0L1434.9 628.4L1437.9 625.9L1440.9 623.6L1443.9 621.3L1446.9 619.1L1449.9 617.1L1452.9 615.0L1455.9 613.1L1458.9 611.3L1461.9 609.5L1464.9 607.7L1467.9 606.0L1470.9 604.4L1473.9 602.7L1476.9 601.1L1479.9 599.6L1482.9 598.0L1485.9 596.4L1488.9 594.9L1491.9 593.3L1494.9 591.8L1497.9 590.2L1500.9 588.6L1503.9 586.9L1506.9 585.2L1509.9 583.5L1512.9 581.7L1515.9 579.9L1518.9 577.9L1521.9 576.0L1524.9 573.9L1527.9 571.9L1530.9 569.7L1533.9 567.5L1536.9 565.3L1539.9 563.0L1542.9 560.7L1545.9 558.3L1548.9 555.9L1551.9 553.5L1554.9 551.0L1557.9 548.5L1560.9 545.9L1563.9 543.4L1566.9 540.8L1569.9 538.2L1572.9 535.6L1575.9 532.9L1578.9 530.3L1581.9 527.6L1584.9 524.9L1587.9 522.2L1590.9 519.5L1593.9 516.8L1596.9 514.1L1599.9 511.4L1602.9 508.6L1605.9 505.8L1608.9 503.0L1611.9 500.2L1614.9 497.3L1617.9 494.4L1620.9 491.4L1623.9 488.5L1626.9 485.4L1629.9 482.3L1632.9 479.2L1635.9 476.0L1638.9 472.8L1641.9 469.5L1644.9 466.1L1647.9 462.7L1650.9 459.2L1653.9 455.6L1656.9 452.0L1659.9 448.2L1662.9 444.5L1665.9 440.6L1668.9 436.6L1671.9 432.6L1674.9 428.6L1677.9 424.4L1680.9 420.2L1683.9 415.9L1686.9 411.5L1689.9 407.0L1692.9 402.5L1695.9 397.9L1698.9 393.3L1701.9 388.5L1704.9 383.7L1707.9 378.8L1710.9 373.9L1713.9 368.8L1716.9 363.7L1719.9 358.5L1722.9 353.3L1725.9 348.0L1728.9 342.6L1731.9 337.1L1734.9 331.6L1737.9 325.9L1740.9 320.3L1743.9 314.5L1746.9 308.7L1749.9 302.8L1752.0 298.6L1752.0 726.1L1749.9 726.0L1746.9 725.9L1743.9 725.7L1740.9 725.6L1737.9 725.4L1734.9 725.3L1731.9 725.1L1728.9 724.9L1725.9 724.8L1722.9 724.6L1719.9 724.5L1716.9 724.3L1713.9 724.1L1710.9 724.0L1707.9 723.8L1704.9 723.7L1701.9 723.5L1698.9 723.4L1695.9 723.2L1692.9 723.1L1689.9 723.0L1686.9 722.8L1683.9 722.7L1680.9 722.6L1677.9 722.5L1674.9 722.4L1671.9 722.3L1668.9 722.2L1665.9 722.1L1662.9 722.0L1659.9 722.0L1656.9 721.9L1653.9 721.9L1650.9 721.8L1647.9 721.8L1644.9 721.8L1641.9 721.8L1638.9 721.8L1635.9 721.8L1632.9 721.8L1629.9 721.9L1626.9 721.9L1623.9 722.0L1620.9 722.1L1617.9 722.2L1614.9 722.3L1611.9 722.4L1608.9 722.6L1605.9 722.7L1602.9 722.9L1599.9 723.1L1596.9 723.3L1593.9 723.5L1590.9 723.8L1587.9 724.0L1584.9 724.3L1581.9 724.6L1578.9 725.0L1575.9 725.3L1572.9 725.7L1569.9 726.0L1566.9 726.4L1563.9 726.9L1560.9 727.3L1557.9 727.8L1554.9 728.3L1551.9 728.8L1548.9 729.3L1545.9 729.9L1542.9 730.5L1539.9 731.1L1536.9 731.7L1533.9 732.4L1530.9 733.1L1527.9 733.8L1524.9 734.6L1521.9 735.3L1518.9 736.1L1515.9 737.0L1512.9 737.8L1509.9 738.7L1506.9 739.6L1503.9 740.6L1500.9 741.5L1497.9 742.5L1494.9 743.6L1491.9 744.6L1488.9 745.7L1485.9 746.9L1482.9 748.0L1479.9 749.2L1476.9 750.5L1473.9 751.7L1470.9 753.0L1467.9 754.4L1464.9 755.7L1461.9 757.2L1458.9 758.6L1455.9 760.1L1452.9 761.6L1449.9 763.1L1446.9 764.7L1443.9 766.4L1440.9 768.0L1437.9 769.7L1434.9 771.5L1431.9 773.3L1428.9 775.1L1425.9 776.9L1422.9 778.9L1419.9 780.8L1416.9 782.8L1413.9 784.9L1410.9 787.0L1407.9 789.2L1404.9 791.4L1401.9 793.7L1398.9 796.1L1395.9 798.6L1392.9 801.1L1389.9 803.8L1386.9 806.5L1383.9 809.3L1380.9 812.3L1377.9 815.3L1374.9 818.4L1371.9 821.7L1368.9 825.1L1365.9 828.6L1362.9 832.2L1359.9 835.9L1356.9 839.8L1353.9 843.9L1350.9 848.0L1347.9 852.3L1344.9 856.8L1341.9 861.4L1338.9 866.2L1335.9 871.1L1332.9 876.3L1329.9 881.5L1326.9 887.0L1323.9 892.6L1320.9 898.5L1317.9 904.5L1314.9 910.7L1311.9 917.1L1308.9 923.7L1305.9 930.5L1302.9 937.5Z" fill="#7570B3" fill-opacity="0.3"/>
<path d="M1302.9 862.4L1305.9 863.2L1308.9 864.0L1311.9 864.7L1314.9 865.3L1317.9 865.9L1320.9 866.5L1323.9 867.0L1326.9 867.4L1329.9 867.9L1332.9 868.2L1335.9 868.6L1338.9 868.9L1341.9 869.1L1344.9 869.3L1347.9 869.5L1350.9 869.7L1353.9 869.8L1356.9 869.9L1359.9 869.9L1362.9 870.0L1365.9 870.0L1368.9 869.9L1371.9 869.9L1374.9 869.8L1377.9 869.7L1380.9 869.6L1383.9 869.4L1386.9 869.3L1389.9 869.1L1392.9 868.9L1395.9 868.7L1398.9 868.4L1401.9 868.2L1404.9 867.9L1407.9 867.7L1410.9 867.4L1413.9 867.1L1416.9 866.8L1419.9 866.5L1422.9 866.2L1425.9 865.9L1428.9 865.6L1431.9 865.3L1434.9 865.0L1437.9 864.7L1440.9 864.4L1443.9 864.1L1446.9 863.8L1449.9 863.5L1452.9 863.2L1455.9 863.0L1458.9 862.7L1461.9 862.4L1464.9 862.2L1467.9 862.0L1470.9 861.8L1473.9 861.6L1476.9 861.4L1479.9 861.2L1482.9 861.0L1485.9 860.9L1488.9 860.7L1491.9 860.6L1494.9 860.5L1497.9 860.3L1500.9 860.2L1503.9 860.1L1506.9 860.1L1509.9 860.0L1512.9 859.9L1515.9 859.9L1518.9 859.9L1521.9 859.8L1524.9 859.8L1527.9 859.8L1530.9 859.8L1533.9 859.9L1536.9 859.9L1539.9 860.0L1542.9 860.0L1545.9 860.1L1548.9 860.2L1551.9 860.3L1554.9 860.4L1557.9 860.5L1560.9 860.7L1563.9 860.8L1566.9 861.0L1569.9 861.2L1572.9 861.3L1575.9 861.5L1578.9 861.8L1581.9 862.0L1584.9 862.2L1587.9 862.5L1590.9 862.8L1593.9 863.0L1596.9 863.3L1599.9 863.7L1602.9 864.0L1605.9 864.3L1608.9 864.7L1611.9 865.0L1614.9 865.4L1617.9 865.8L1620.9 866.2L1623.9 866.6L1626.9 867.1L1629.9 867.5L1632.9 868.0L1635.9 868.5L1638.9 868.9L1641.9 869.5L1644.9 870.0L1647.9 870.5L1650.9 871.1L1653.9 871.6L1656.9 872.2L1659.9 872.8L1662.9 873.4L1665.9 874.1L1668.9 874.7L1671.9 875.4L1674.9 876.0L1677.9 876.7L1680.9 877.4L1683.9 878.1L1686.9 878.9L1689.9 879.6L1692.9 880.4L1695.9 881.2L1698.9 882.0L1701.9 882.8L1704.9 883.6L1707.9 884.5L1710.9 885.3L1713.9 886.2L1716.9 887.1L1719.9 888.0L1722.9 888.9L1725.9 889.9L1728.9 890.8L1731.9 891.8L1734.9 892.8L1737.9 893.8L1740.9 894.8L1743.9 895.9L1746.9 896.9L1749.9 898.0L1752.0 898.8L1752.0 607.2L1749.9 609.0L1746.9 611.5L1743.9 614.0L1740.9 616.5L1737.9 618.9L1734.9 621.4L1731.9 623.8L1728.9 626.2L1725.9 628.5L1722.9 630.9L1719.9 633.2L1716.9 635.5L1713.9 637.8L1710.9 640.0L1707.9 642.3L1704.9 644.5L1701.9 646.7L1698.9 648.9L1695.9 651.0L1692.9 653.2L1689.9 655.3L1686.9 657.4L1683.9 659.5L1680.9 661.5L1677.9 663.6L1674.9 665.6L1671.9 667.6L1668.9 669.6L1665.9 671.6L1662.9 673.6L1659.9 675.5L1656.9 677.4L1653.9 679.3L1650.9 681.2L1647.9 683.1L1644.9 685.0L1641.9 686.8L1638.9 688.7L1635.9 690.5L1632.9 692.3L1629.9 694.1L1626.9 695.8L1623.9 697.6L1620.9 699.3L1617.9 701.1L1614.9 702.8L1611.9 704.5L1608.9 706.2L1605.9 707.9L1602.9 709.6L1599.9 711.2L1596.9 712.9L1593.9 714.5L1590.9 716.1L1587.9 717.7L1584.9 719.3L1581.9 720.9L1578.9 722.4L1575.9 723.9L1572.9 725.4L1569.9 726.9L1566.9 728.4L1563.9 729.8L1560.9 731.2L1557.9 732.6L1554.9 734.0L1551.9 735.3L1548.9 736.6L1545.9 737.9L1542.9 739.1L1539.9 740.3L1536.9 741.5L1533.9 742.7L1530.9 743.8L1527.9 744.9L1524.9 745.9L1521.9 746.9L1518.9 747.9L1515.9 748.9L1512.9 749.8L1509.9 750.6L1506.9 751.5L1503.9 752.2L1500.9 753.0L1497.9 753.7L1494.9 754.3L1491.9 755.0L1488.9 755.5L1485.9 756.1L1482.9 756.5L1479.9 757.0L1476.9 757.4L1473.9 757.9L1470.9 758.3L1467.9 758.7L1464.9 759.1L1461.9 759.5L1458.9 760.0L1455.9 760.5L1452.9 761.0L1449.9 761.6L1446.9 762.2L1443.9 762.8L1440.9 763.6L1437.9 764.4L1434.9 765.2L1431.9 766.2L1428.9 767.2L1425.9 768.4L1422.9 769.6L1419.9 771.0L1416.9 772.4L1413.9 774.0L1410.9 775.7L1407.9 777.6L1404.9 779.5L1401.9 781.6L1398.9 783.8L1395.9 786.1L1392.9 788.6L1389.9 791.2L1386.9 794.0L1383.9 796.9L1380.9 800.0L1377.9 803.2L1374.9 806.6L1371.9 810.1L1368.9 813.8L1365.9 817.7L1362.9 821.8L1359.9 826.0L1356.9 830.3L1353.9 834.8L1350.9 839.5L1347.9 844.2L1344.9 849.1L1341.9 854.0L1338.9 859.0L1335.9 864.1L1332.9 869.3L1329.9 874.5L1326.9 879.7L1323.9 885.0L1320.9 890.2L1317.9 895.5L1314.9 900.8L1311.9 906.0L1308.9 911.3L1305.9 916.4L1302.9 921.6Z" fill="#D95F02" fill-opacity="0.3" fill-rule="nonzero"/>
<path d="M1302.9 900.4L1305.9 894.3L1308.9 888.3L1311.9 882.3L1314.9 876.4L1317.9 870.5L1320.9 864.6L1323.9 858.8L1326.9 853.1L1329.9 847.4L1332.9 841.8L1335.9 836.3L1338.9 830.9L1341.9 825.5L1344.9 820.2L1347.9 815.0L1350.9 809.9L1353.9 804.8L1356.9 799.9L1359.9 795.0L1362.9 790.3L1365.9 785.6L1368.9 781.0L1371.9 776.6L1374.9 772.2L1377.9 767.9L1380.9 763.7L1383.9 759.7L1386.9 755.7L1389.9 751.8L1392.9 748.0L1395.9 744.3L1398.9 740.7L1401.9 737.2L1404.9 733.9L1407.9 730.6L1410.9 727.4L1413.9 724.3L1416.9 721.3L1419.9 718.4L1422.9 715.6L1425.9 712.9L1428.9 710.4L1431.9 707.9L1434.9 705.5L1437.9 703.2L1440.9 701.1L1443.9 699.0L1446.9 697.0L1449.9 695.1L1452.9 693.3L1455.9 691.5L1458.9 689.8L1461.9 688.2L1464.9 686.6L1467.9 685.1L1470.9 683.7L1473.9 682.3L1476.9 680.9L1479.9 679.6L1482.9 678.3L1485.9 677.1L1488.9 675.9L1491.9 674.6L1494.9 673.4L1497.9 672.2L1500.9 671.1L1503.9 669.9L1506.9 668.7L1509.9 667.5L1512.9 666.3L1515.9 665.1L1518.9 663.8L1521.9 662.5L1524.9 661.3L1527.9 660.0L1530.9 658.6L1533.9 657.3L1536.9 655.9L1539.9 654.6L1542.9 653.2L1545.9 651.8L1548.9 650.3L1551.9 648.9L1554.9 647.5L1557.9 646.0L1560.9 644.6L1563.9 643.1L1566.9 641.6L1569.9 640.1L1572.9 638.6L1575.9 637.1L1578.9 635.6L1581.9 634.1L1584.9 632.6L1587.9 631.1L1590.9 629.5L1593.9 628.0L1596.9 626.5L1599.9 625.0L1602.9 623.4L1605.9 621.9L1608.9 620.4L1611.9 618.9L1614.9 617.3L1617.9 615.8L1620.9 614.3L1623.9 612.8L1626.9 611.3L1629.9 609.8L1632.9 608.2L1635.9 606.7L1638.9 605.2L1641.9 603.7L1644.9 602.2L1647.9 600.7L1650.9 599.2L1653.9 597.6L1656.9 596.1L1659.9 594.6L1662.9 593.1L1665.9 591.6L1668.9 590.0L1671.9 588.5L1674.9 587.0L1677.9 585.5L1680.9 583.9L1683.9 582.4L1686.9 580.9L1689.9 579.3L1692.9 577.8L1695.9 576.2L1698.9 574.7L1701.9 573.1L1704.9 571.6L1707.9 570.0L1710.9 568.4L1713.9 566.9L1716.9 565.3L1719.9 563.7L1722.9 562.1L1725.9 560.5L1728.9 558.9L1731.9 557.3L1734.9 555.7L1737.9 554.1L1740.9 552.5L1743.9 550.8L1746.9 549.2L1749.9 547.6L1752.0 546.4" stroke="#766fb2" stroke-width="3.7" fill="none"/>
<path d="M1302.9 895.2L1305.9 892.1L1308.9 889.1L1311.9 886.2L1314.9 883.4L1317.9 880.6L1320.9 877.9L1323.9 875.2L1326.9 872.6L1329.9 870.1L1332.9 867.7L1335.9 865.3L1338.9 863.0L1341.9 860.8L1344.9 858.6L1347.9 856.5L1350.9 854.4L1353.9 852.5L1356.9 850.5L1359.9 848.7L1362.9 846.8L1365.9 845.1L1368.9 843.4L1371.9 841.8L1374.9 840.2L1377.9 838.7L1380.9 837.2L1383.9 835.8L1386.9 834.4L1389.9 833.1L1392.9 831.9L1395.9 830.7L1398.9 829.5L1401.9 828.4L1404.9 827.3L1407.9 826.3L1410.9 825.3L1413.9 824.4L1416.9 823.5L1419.9 822.6L1422.9 821.8L1425.9 821.0L1428.9 820.2L1431.9 819.5L1434.9 818.8L1437.9 818.1L1440.9 817.5L1443.9 816.8L1446.9 816.2L1449.9 815.7L1452.9 815.1L1455.9 814.6L1458.9 814.1L1461.9 813.6L1464.9 813.2L1467.9 812.7L1470.9 812.3L1473.9 811.8L1476.9 811.4L1479.9 811.0L1482.9 810.6L1485.9 810.2L1488.9 809.8L1491.9 809.5L1494.9 809.1L1497.9 808.7L1500.9 808.3L1503.9 808.0L1506.9 807.6L1509.9 807.3L1512.9 806.9L1515.9 806.5L1518.9 806.2L1521.9 805.8L1524.9 805.5L1527.9 805.2L1530.9 804.8L1533.9 804.5L1536.9 804.1L1539.9 803.8L1542.9 803.5L1545.9 803.1L1548.9 802.8L1551.9 802.5L1554.9 802.2L1557.9 801.8L1560.9 801.5L1563.9 801.2L1566.9 800.9L1569.9 800.5L1572.9 800.2L1575.9 799.9L1578.9 799.6L1581.9 799.3L1584.9 798.9L1587.9 798.6L1590.9 798.3L1593.9 798.0L1596.9 797.7L1599.9 797.3L1602.9 797.0L1605.9 796.7L1608.9 796.4L1611.9 796.1L1614.9 795.7L1617.9 795.4L1620.9 795.1L1623.9 794.8L1626.9 794.4L1629.9 794.1L1632.9 793.8L1635.9 793.4L1638.9 793.1L1641.9 792.8L1644.9 792.4L1647.9 792.1L1650.9 791.7L1653.9 791.4L1656.9 791.1L1659.9 790.7L1662.9 790.4L1665.9 790.0L1668.9 789.6L1671.9 789.3L1674.9 788.9L1677.9 788.5L1680.9 788.2L1683.9 787.8L1686.9 787.4L1689.9 787.0L1692.9 786.6L1695.9 786.3L1698.9 785.9L1701.9 785.5L1704.9 785.1L1707.9 784.6L1710.9 784.2L1713.9 783.8L1716.9 783.4L1719.9 783.0L1722.9 782.5L1725.9 782.1L1728.9 781.7L1731.9 781.2L1734.9 780.8L1737.9 780.3L1740.9 779.8L1743.9 779.4L1746.9 778.9L1749.9 778.4L1752.0 778.1" stroke="#d0640f" stroke-width="3.7" fill="none"/>
</g>
<text x="1525.4" y="970" text-anchor="middle" font-size="30" fill="#c8701c">ORs (95%CI): 1.2 (0.977,1.48)</text>
<text x="1525.4" y="1030" text-anchor="middle" font-size="30" fill="#7b77a8">ORs (95%CI): 1.51 (1.24,1.83)</text>
<rect x="1262.0" y="118" width="179" height="218" fill="#fff"/>
<text x="1278.2" y="171" font-size="39.2" fill="#000">Age</text>
<rect x="1279.5" y="195.5" width="58" height="58" fill="#f7f6f5"/>
<rect x="1281.0" y="197" width="55" height="55" fill="#f2f2f2"/>
<rect x="1281.0" y="197" width="55" height="55" fill="#7570B3" fill-opacity="0.3"/>
<path d="M1284.5 224.6H1333.0" stroke="#766fb2" stroke-width="3.7"/>
<text x="1357.6" y="236.8" font-size="31.5" fill="#000">&lt; 50</text>
<rect x="1279.5" y="256.0" width="58" height="58" fill="#f7f6f5"/>
<rect x="1281.0" y="257.5" width="55" height="55" fill="#f2f2f2"/>
<rect x="1281.0" y="257.5" width="55" height="55" fill="#D95F02" fill-opacity="0.3"/>
<path d="M1284.5 285.1H1333.0" stroke="#d0640f" stroke-width="3.7"/>
<text x="1357.6" y="297.3" font-size="31.5" fill="#000">≥ 50</text>
<text x="1257.3" y="276.1" text-anchor="end" font-size="31" fill="#4d4d4d">3</text>
<text x="1257.3" y="577.9" text-anchor="end" font-size="31" fill="#4d4d4d">2</text>
<text x="1257.3" y="879.9" text-anchor="end" font-size="31" fill="#4d4d4d">1</text>
<text x="1303.4" y="1103.5" text-anchor="middle" font-size="31" fill="#4d4d4d">0</text>
<text x="1454.7" y="1103.5" text-anchor="middle" font-size="31" fill="#4d4d4d">20</text>
<text x="1606.2" y="1103.5" text-anchor="middle" font-size="31" fill="#4d4d4d">40</text>
<text x="1512.1" y="1148" text-anchor="middle" font-size="38.4" fill="#000">Snoring duration, %</text>
<text transform="translate(1222.6 566.4) rotate(-90)" text-anchor="middle" font-size="38.5" fill="#000">Odds ratio</text>
<text x="1511.5" y="39.4" text-anchor="middle" font-size="46.2" fill="#000">BMI ≥ 30</text>
</g>
</svg>
</body></html>
